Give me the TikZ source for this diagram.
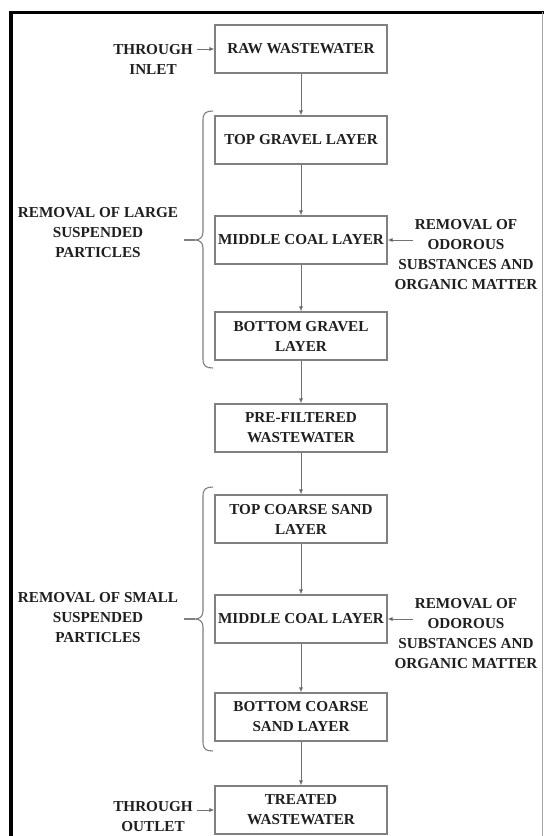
\documentclass[tikz,border=0pt]{standalone}
\usepackage{fontspec}
\setmainfont{Liberation Serif}
\usetikzlibrary{arrows.meta}
\begin{document}
\begin{tikzpicture}[x=1pt,y=-1pt,
  stage/.style={draw=black!50, line width=1.1pt, minimum width=172pt, minimum height=48pt,
    inner sep=1pt, align=center, font=\fontsize{15.2}{20}\selectfont\bfseries, text=black!88},
  note/.style={align=center, inner sep=0pt, font=\fontsize{15.2}{20}\selectfont\bfseries, text=black!88},
  arr/.style={draw=black!55, line width=0.8pt, -{Latex[length=5pt,width=4pt,fill=black!80]}},
  bracel/.style={draw=black!50, line width=1.1pt}]
\useasboundingbox (0,0) rectangle (544,836);
\fill[white] (0,0) rectangle (544,836);
% frame
\draw[line width=3pt, black] (9,12) -- (544,12);
\draw[line width=4pt, black] (11,12) -- (11,836);
\draw[line width=0.8pt, black!35] (542,12) -- (542,836);
% boxes
\node[stage] (raw) at (301,49) {RAW WASTEWATER};
\node[stage] (tg) at (301,140) {TOP GRAVEL LAYER};
\node[stage] (mc1) at (301,240) {MIDDLE COAL LAYER};
\node[stage] (bg) at (301,336) {BOTTOM GRAVEL\\LAYER};
\node[stage] (pf) at (301,428) {PRE-FILTERED\\WASTEWATER};
\node[stage] (tcs) at (301,519) {TOP COARSE SAND\\LAYER};
\node[stage] (mc2) at (301,619) {MIDDLE COAL LAYER};
\node[stage] (bcs) at (301,717) {BOTTOM COARSE\\SAND LAYER};
\node[stage] (tw) at (301,810) {TREATED\\WASTEWATER};
% vertical flow
\draw[arr] (raw) -- (tg);
\draw[arr] (tg) -- (mc1);
\draw[arr] (mc1) -- (bg);
\draw[arr] (bg) -- (pf);
\draw[arr] (pf) -- (tcs);
\draw[arr] (tcs) -- (mc2);
\draw[arr] (mc2) -- (bcs);
\draw[arr] (bcs) -- (tw);
% inlet / outlet
\node[note] (inlet) at (153,59) {THROUGH\\INLET};
\node[note] (outlet) at (153,817) {THROUGH\\OUTLET};
\coordinate (inA) at (197,49);
\coordinate (outA) at (197,810);
\draw[arr] (inA) -- (raw.west);
\draw[arr] (outA) -- (tw.west);
% right notes
\node[note] (od1) at (466,255) {REMOVAL OF\\ODOROUS\\SUBSTANCES AND\\ORGANIC MATTER};
\node[note] (od2) at (466,634) {REMOVAL OF\\ODOROUS\\SUBSTANCES AND\\ORGANIC MATTER};
\coordinate (odA1) at (413,240);
\coordinate (odA2) at (413,619);
\draw[arr] (odA1) -- (mc1.east);
\draw[arr] (odA2) -- (mc2.east);
% left notes
\node[note] (lg) at (98,233) {REMOVAL OF LARGE\\SUSPENDED\\PARTICLES};
\node[note] (sm) at (98,618) {REMOVAL OF SMALL\\SUSPENDED\\PARTICLES};
% braces
\draw[bracel] (213,111) .. controls (206,111) and (203,113) .. (203,120) -- (203,232)
  .. controls (203,237) and (200,240) .. (195,240)
  .. controls (200,240) and (203,243) .. (203,248) -- (203,359)
  .. controls (203,366) and (206,368) .. (213,368);
\draw[bracel] (195,240) -- (184,240);
\draw[bracel] (213,487) .. controls (206,487) and (203,489) .. (203,496) -- (203,611)
  .. controls (203,616) and (200,619) .. (195,619)
  .. controls (200,619) and (203,622) .. (203,627) -- (203,742)
  .. controls (203,749) and (206,751) .. (213,751);
\draw[bracel] (195,619) -- (184,619);
\end{tikzpicture}
\end{document}
